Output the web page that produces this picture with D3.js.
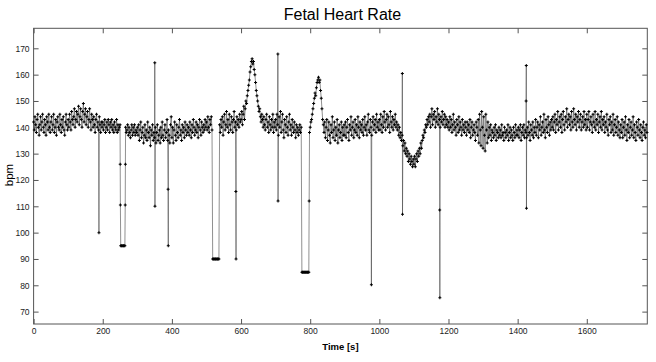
<!DOCTYPE html>
<html>
<head>
<meta charset="utf-8">
<script src="https://cdn.jsdelivr.net/npm/d3@7"></script>
<style>
  body { margin: 0; background: #fff; }
  svg { display: block; font-family: "Liberation Sans", Arial, sans-serif; }
  .axis path { display: none; }
  .axis line { stroke: #555; }
  .axis text { fill: #222; font-size: 8.5px; }
</style>
</head>
<body>
<div id="chart"></div>
<script>
// heart rate, one value every 2 seconds (t = 0 .. 1774)
var sampleStep = 2;
var bpm2s = [
    // 0 - 98
    142,139,144,141,138,143,145,140,137,141,144,139,142,145,140,138,143,141,137,144,142,139,145,140,138,
    142,144,139,141,145,138,140,143,137,142,144,140,139,145,141,138,143,140,144,139,137,142,145,141,139,
    // 100 - 198
    143,140,145,142,139,146,143,141,144,147,140,143,146,142,145,148,141,144,147,143,140,146,149,142,145,
    147,141,144,146,140,143,147,142,139,145,143,140,144,141,138,143,145,140,142,139,144,141,138,142,140,
    // 200 - 298 (signal lost at 95 bpm)
    142,139,141,143,138,140,142,139,143,141,138,142,140,143,139,141,138,142,140,139,143,138,141,139,140,
    141,95,95,95,95,95,95,95,140,138,139,141,137,140,138,136,139,141,137,140,138,141,137,139,138,
    // 300 - 398
    140,137,141,135,139,142,136,138,140,134,137,141,136,139,135,142,138,136,140,133,139,137,141,135,138,
    136,140,134,138,141,135,137,139,134,140,136,142,137,135,139,141,136,138,143,135,139,137,134,141,144,
    // 400 - 498
    136,140,134,139,142,137,135,141,138,136,140,143,137,139,135,141,138,140,136,142,139,137,141,138,140,
    137,142,139,136,141,138,143,140,137,139,142,138,141,136,140,143,139,137,142,140,138,141,139,143,140,
    // 500 - 598 (signal lost at 90 bpm)
    142,139,144,140,138,143,141,144,139,90,90,90,90,90,90,90,90,90,90,
    141,138,143,140,144,137,142,145,139,141,146,140,143,138,145,141,139,144,142,138,143,146,140,142,139,
    144,141,143,140,145,142,
    // 600 - 698 (acceleration)
    143,146,141,145,148,143,147,150,149,152,154,156,158,161,163,165,166,164,165,162,160,157,154,152,150,
    148,146,147,144,142,145,143,140,144,141,139,143,145,140,142,138,144,141,139,143,140,145,138,142,140,
    // 700 - 798 (signal lost at 85 bpm)
    143,139,145,141,137,144,140,146,138,142,145,139,136,143,141,138,144,140,137,142,145,139,141,137,143,
    140,138,142,139,136,141,138,140,137,139,141,138,140,85,85,85,85,85,85,85,85,85,85,85,138,
    // 800 - 898 (second acceleration)
    140,142,143,145,147,149,151,153,152,155,157,158,159,157,158,154,151,147,143,141,138,142,136,140,143,
    135,139,142,137,134,141,138,144,136,139,142,135,140,137,143,134,139,141,136,138,142,135,140,137,141,
    // 900 - 998
    137,142,136,140,143,138,135,141,139,144,137,140,142,136,139,143,138,141,137,144,140,136,142,139,141,
    138,143,137,140,144,139,141,137,142,145,139,138,143,140,137,142,144,139,141,143,138,145,140,142,139,
    // 1000 - 1098 (deceleration)
    143,139,145,141,138,144,140,146,142,139,143,145,140,144,141,138,146,142,140,144,139,143,141,145,140,
    142,139,141,137,140,136,138,135,137,133,135,131,134,130,132,129,131,127,130,128,126,129,127,125,128,
    // 1100 - 1198
    126,129,125,128,130,127,131,129,132,130,134,132,135,137,136,139,138,141,140,143,141,144,142,145,140,
    144,147,141,145,143,146,140,144,142,147,141,145,143,140,144,142,146,141,143,145,140,144,141,143,140,
    // 1200 - 1298
    142,139,144,140,143,138,141,145,139,142,140,137,143,141,138,144,139,142,140,137,143,139,141,138,142,
    140,137,142,139,141,138,143,136,140,142,137,139,141,138,135,142,140,137,143,134,145,139,133,146,140,
    // 1300 - 1398
    132,144,137,131,145,139,134,142,136,140,137,141,135,139,138,136,140,137,141,135,139,138,136,140,137,
    139,136,141,137,138,135,140,138,136,139,137,141,135,138,140,136,139,137,135,140,138,136,141,137,139,
    // 1400 - 1498
    137,140,136,139,141,135,138,140,137,141,136,139,138,136,140,137,142,138,135,141,139,137,142,136,140,
    138,143,137,140,142,136,141,139,144,137,140,142,138,145,139,136,143,140,138,144,141,137,142,139,143,
    // 1500 - 1598
    140,144,139,142,145,138,143,141,146,139,142,144,140,145,138,143,146,141,139,144,142,147,140,143,145,
    141,144,139,146,142,140,147,143,141,145,139,144,142,146,140,143,145,139,142,144,140,146,141,143,139,
    // 1600 - 1698
    145,140,143,146,139,142,144,141,138,145,142,140,146,139,143,141,145,138,142,144,140,146,139,143,141,
    144,138,142,140,145,139,137,143,141,144,138,142,139,145,137,141,143,138,140,144,137,142,139,136,141,
    // 1700 - 1774
    138,143,136,140,142,137,144,139,135,141,138,143,136,140,142,137,139,144,136,141,138,135,142,140,137,
    143,139,136,141,138,135,140,142,137,139,136,141,138
];

// single artefact samples (spikes and the edges of the lost-signal gaps)
var extraTime = [189, 250.5, 251, 265, 265.5, 350.5, 351, 389, 389.5, 585, 585.5, 706.5, 707, 797, 977, 1066.5, 1067, 1174.5, 1175, 1424.5, 1425, 1425.5];
var extraBpm  = [100, 126, 110.5, 110.5, 126, 164.5, 110, 116.5, 95, 115.6, 90, 167.8, 112, 112, 80.2, 160.4, 107, 108.6, 75.3, 150, 163.5, 109.3];

var xTicks = [0, 200, 400, 600, 800, 1000, 1200, 1400, 1600];
var yTicks = [70, 80, 90, 100, 110, 120, 130, 140, 150, 160, 170];

var width = 656, height = 362;
var margin = {top: 28.3, right: 8.7, bottom: 38, left: 33.6};

var svg = d3.select("#chart").append("svg")
    .attr("width", width)
    .attr("height", height);

// scales
var xScale = d3.scaleLinear()
    .domain([0, 1775])
    .range([margin.left, width - margin.right]);

var yScale = d3.scaleLinear()
    .domain([65.3, 177.6])
    .range([height - margin.bottom, margin.top]);

// put grid samples and artefacts together in time order
var dataset = bpm2s.map(function(v, i) { return {t: i * sampleStep, v: v}; });
extraTime.forEach(function(t, i) {
    dataset.push({t: t, v: extraBpm[i]});
});
dataset.sort(function(a, b) { return a.t - b.t; });

// axes, ticks pointing inwards on all four sides
var plotBottom = height - margin.bottom;
var plotRight = width - margin.right;

svg.append("g")
    .attr("class", "axis")
    .attr("transform", "translate(0," + plotBottom + ")")
    .call(d3.axisBottom(xScale).tickValues(xTicks).tickFormat(d3.format("d"))
        .tickSizeInner(-5).tickSizeOuter(0).tickPadding(4));

svg.append("g")
    .attr("class", "axis")
    .attr("transform", "translate(0," + margin.top + ")")
    .call(d3.axisTop(xScale).tickValues(xTicks).tickSizeInner(-5).tickSizeOuter(0).tickFormat(""));

svg.append("g")
    .attr("class", "axis")
    .attr("transform", "translate(" + margin.left + ",0)")
    .call(d3.axisLeft(yScale).tickValues(yTicks).tickSizeInner(-5).tickSizeOuter(0).tickPadding(4));

svg.append("g")
    .attr("class", "axis")
    .attr("transform", "translate(" + plotRight + ",0)")
    .call(d3.axisRight(yScale).tickValues(yTicks).tickSizeInner(-5).tickSizeOuter(0).tickFormat(""));

// box
svg.append("rect")
    .attr("x", margin.left)
    .attr("y", margin.top)
    .attr("width", plotRight - margin.left)
    .attr("height", plotBottom - margin.top)
    .attr("fill", "none")
    .attr("stroke", "#555")
    .attr("stroke-width", 1);

// line
var line = d3.line()
    .x(function(d) { return xScale(d.t); })
    .y(function(d) { return yScale(d.v); });

svg.append("path")
    .datum(dataset)
    .attr("fill", "none")
    .attr("stroke", "#444")
    .attr("stroke-width", 0.6)
    .attr("d", line);

// small "+" markers at every sample
var marker = d3.symbol().type(d3.symbolCross).size(5);

svg.selectAll(".dot")
    .data(dataset).enter().append("path")
    .attr("class", "dot")
    .attr("transform", function(d) { return "translate(" + xScale(d.t) + "," + yScale(d.v) + ")"; })
    .attr("d", marker)
    .attr("fill", "#000");

// title and labels
svg.append("text")
    .attr("x", (margin.left + plotRight) / 2 + 2)
    .attr("y", 20)
    .attr("text-anchor", "middle")
    .style("font-size", "16px")
    .text("Fetal Heart Rate");

svg.append("text")
    .attr("x", (margin.left + plotRight) / 2)
    .attr("y", 350)
    .attr("text-anchor", "middle")
    .style("font-size", "9.5px")
    .style("font-weight", "bold")
    .text("Time [s]");

svg.append("text")
    .attr("text-anchor", "middle")
    .attr("transform", "translate(" + [13, 175] + ") rotate(-90)")
    .style("font-size", "11.5px")
    .text("bpm");
</script>
</body>
</html>
